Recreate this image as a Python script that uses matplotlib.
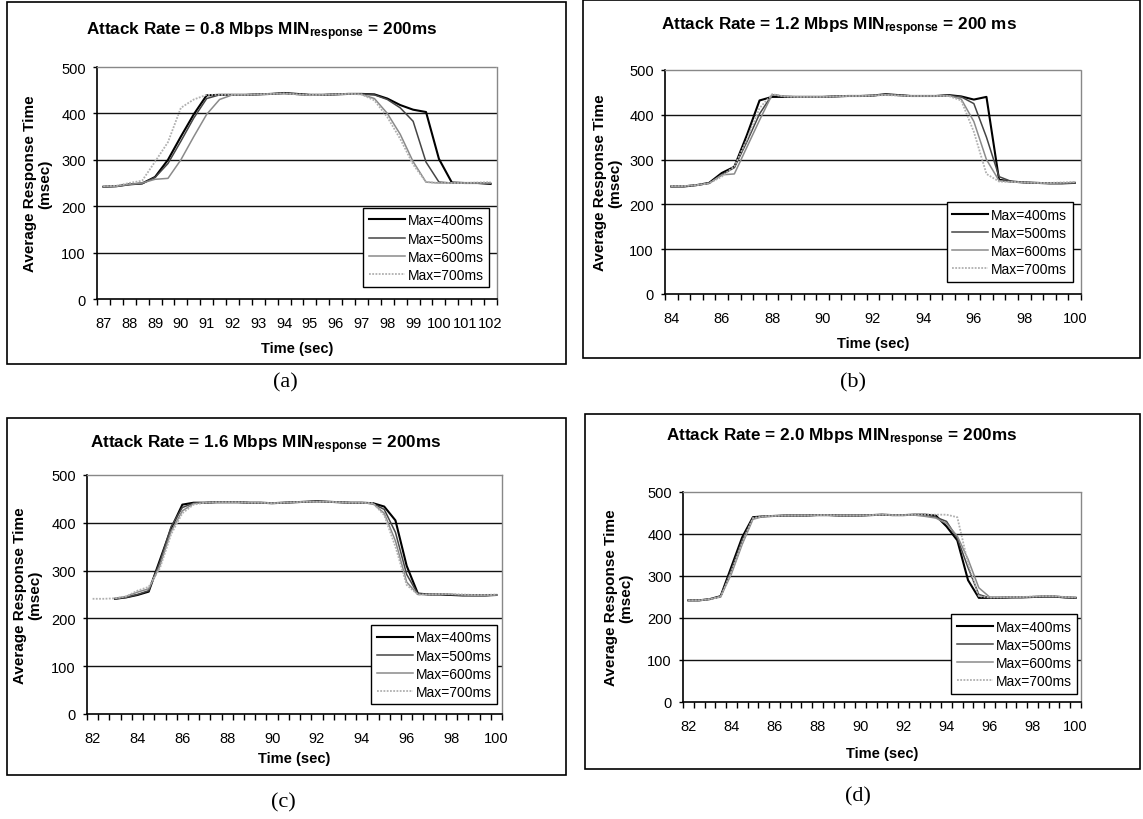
import numpy as np
import matplotlib
matplotlib.use("Agg")
import matplotlib.pyplot as plt
from matplotlib.patches import Rectangle

plt.rcParams['font.family'] = ['Liberation Sans', 'DejaVu Sans']
plt.rcParams['mathtext.fontset'] = 'custom'
plt.rcParams['mathtext.rm'] = 'Liberation Sans:bold'
plt.rcParams['mathtext.it'] = 'Liberation Sans:bold'
plt.rcParams['mathtext.bf'] = 'Liberation Sans:bold'
plt.rcParams['mathtext.default'] = 'rm'

nan = np.nan
series_labels = ["Max=400ms", "Max=500ms", "Max=600ms", "Max=700ms"]

# ---- Panel (a): 0.8 Mbps ----
a_start, a_end = 87, 102
a_400 = [242, 243, 247, 249, 263, 300, 350, 398, 439, 440, 440, 440, 441, 442, 444, 442,
         440, 440, 441, 442, 442, 441, 432, 418, 408, 403, 302, 251, 250, 250, 248]
a_500 = [242, 243, 247, 249, 262, 292, 340, 390, 432, 440, 440, 440, 441, 442, 443, 441,
         440, 440, 441, 442, 442, 440, 430, 412, 383, 295, 252, 250, 250, 250, 249]
a_600 = [242, 243, 247, 250, 258, 260, 300, 350, 398, 430, 440, 440, 441, 442, 443, 441,
         439, 440, 441, 442, 441, 432, 400, 355, 296, 252, 250, 250, 250, 250, 250]
a_700 = [243, 244, 250, 255, 296, 338, 412, 430, 440, 440, 440, 440, 441, 442, 443, 441,
         440, 440, 441, 442, 441, 428, 392, 345, 290, 252, 250, 250, 250, 251, 252]

# ---- Panel (b): 1.2 Mbps ----
b_start, b_end = 84, 100
b_400 = [240, 240, 243, 248, 270, 284, 355, 432, 440, 440, 440, 440, 440, 441, 442, 442, 443,
         446, 444, 442, 442, 442, 444, 441, 434, 440, 255, 251, 249, 248, 247, 247, 248]
b_500 = [240, 241, 243, 247, 266, 282, 340, 402, 445, 441, 440, 440, 440, 441, 442, 442, 443,
         445, 444, 442, 442, 442, 443, 440, 425, 350, 262, 251, 249, 248, 247, 247, 248]
b_600 = [240, 241, 243, 247, 266, 268, 328, 388, 445, 441, 440, 440, 440, 441, 442, 442, 443,
         445, 443, 442, 442, 442, 443, 435, 385, 300, 253, 250, 249, 248, 247, 248, 249]
b_700 = [241, 241, 243, 247, 262, 285, 345, 415, 446, 441, 440, 440, 440, 441, 442, 442, 443,
         444, 443, 442, 442, 442, 442, 432, 362, 268, 251, 250, 249, 248, 248, 249, 250]

# ---- Panel (c): 1.6 Mbps ----
c_start, c_end = 82, 100
c_400 = [nan, nan, 241, 244, 249, 256, 322, 388, 438, 442, 442, 443, 443, 443, 442, 442, 441, 442, 443,
         444, 445, 444, 443, 442, 442, 441, 434, 405, 310, 252, 250, 250, 249, 248, 248, 248, 249]
c_500 = [nan, nan, 241, 244, 250, 258, 318, 392, 432, 441, 442, 443, 443, 443, 442, 442, 441, 442, 443,
         444, 445, 444, 443, 442, 442, 440, 428, 380, 292, 251, 250, 251, 250, 249, 248, 248, 249]
c_600 = [nan, nan, 242, 246, 255, 262, 310, 382, 425, 440, 442, 443, 443, 443, 442, 442, 441, 442, 443,
         444, 444, 444, 443, 442, 442, 440, 420, 362, 276, 250, 250, 251, 250, 249, 248, 248, 249]
c_700 = [241, 241, 242, 246, 258, 266, 305, 376, 420, 438, 442, 443, 443, 443, 442, 442, 441, 442, 443,
         444, 444, 444, 443, 442, 442, 441, 416, 350, 270, 250, 250, 251, 251, 250, 249, 249, 250]

# ---- Panel (d): 2.0 Mbps ----
d_start, d_end = 82, 100
d_400 = [242, 242, 245, 252, 322, 392, 440, 442, 443, 444, 444, 444, 445, 445, 444, 444, 444, 445, 446,
         445, 445, 446, 446, 444, 418, 385, 290, 248, 248, 248, 249, 249, 250, 251, 251, 249, 248]
d_500 = [242, 242, 245, 251, 315, 385, 438, 442, 443, 444, 444, 444, 445, 445, 444, 444, 444, 445, 446,
         445, 445, 446, 445, 440, 430, 390, 320, 256, 248, 249, 249, 250, 250, 251, 251, 249, 248]
d_600 = [242, 242, 245, 251, 305, 375, 435, 442, 443, 444, 444, 444, 445, 445, 444, 444, 444, 445, 446,
         445, 445, 445, 442, 438, 425, 395, 340, 272, 250, 249, 250, 250, 251, 252, 252, 250, 249]
d_700 = [242, 242, 245, 250, 310, 380, 438, 442, 443, 444, 444, 444, 445, 445, 444, 444, 444, 445, 446,
         445, 445, 446, 446, 446, 446, 440, 330, 252, 249, 249, 250, 250, 251, 252, 252, 250, 249]

titles = [
    r"Attack Rate = 0.8 Mbps MIN$_{response}$ = 200ms",
    r"Attack Rate = 1.2 Mbps MIN$_{response}$ = 200 ms",
    r"Attack Rate = 1.6 Mbps MIN$_{response}$ = 200ms",
    r"Attack Rate = 2.0 Mbps MIN$_{response}$ = 200ms",
]
sub_labels = ["(a)", "(b)", "(c)", "(d)"]
y_ticks = [0, 100, 200, 300, 400, 500]

W, H = 1143, 820
fig = plt.figure(figsize=(W / 100, H / 100), dpi=100)

panels = [
    dict(start=a_start, end=a_end, data=[a_400, a_500, a_600, a_700], step_lab=1,
         ax=(97, 68, 497, 300), frame=(7, 3, 566, 365), title=(262, 32), sub=(285, 383),
         ylab=-0.112, xlab=-0.18, leg=(0.98, 0.05)),
    dict(start=b_start, end=b_end, data=[b_400, b_500, b_600, b_700], step_lab=2,
         ax=(665, 71, 1081, 295), frame=(583, 1, 1140, 359), title=(839, 27), sub=(853, 383),
         ylab=-0.103, xlab=-0.187, leg=(0.98, 0.054)),
    dict(start=c_start, end=c_end, data=[c_400, c_500, c_600, c_700], step_lab=2,
         ax=(87, 476, 502, 715), frame=(7, 419, 566, 776), title=(266, 445), sub=(283, 803),
         ylab=-0.108, xlab=-0.155, leg=(0.988, 0.04)),
    dict(start=d_start, end=d_end, data=[d_400, d_500, d_600, d_700], step_lab=2,
         ax=(683, 493, 1081, 703), frame=(585, 415, 1140, 770), title=(842, 438), sub=(858, 797),
         ylab=-0.126, xlab=-0.21, leg=(0.99, 0.04)),
]

styles = [
    dict(color="black", lw=1.5, ls="-"),
    dict(color="#454545", lw=1.1, ls="-"),
    dict(color="#8a8a8a", lw=1.1, ls="-"),
    dict(color="#b0b0b0", lw=1.3, ls=(0, (1, 0.8))),
]

for i, p in enumerate(panels):
    x0, y0, x1, y1 = p["ax"]
    ax = fig.add_axes([x0 / W, 1 - y1 / H, (x1 - x0) / W, (y1 - y0) / H])
    n = len(p["data"][0])
    t = p["start"] + 0.5 * np.arange(n)
    for ys, st, lab in zip(p["data"], styles, series_labels):
        ax.plot(t, ys, label=lab, **st)
    lo, hi = p["start"] - 0.25, p["end"] + 0.25
    ax.set_xlim(lo, hi)
    ax.set_ylim(0, 500)
    for g in [100, 200, 300, 400]:
        ax.axhline(g, color="#111111", lw=1.0, zorder=0)
    ax.set_yticks(y_ticks)
    ax.set_yticklabels([str(v) for v in y_ticks], fontsize=10.5)
    ax.tick_params(axis="y", direction="out", length=3, width=1, pad=5)
    labs = np.arange(p["start"], p["end"] + 0.01, p["step_lab"])
    ax.set_xticks(labs)
    ax.set_xticklabels([str(int(v)) for v in labs], fontsize=10.5)
    ax.tick_params(axis="x", which="major", length=0, pad=12)
    ax.set_xticks(np.arange(lo, hi + 0.01, 0.5), minor=True)
    ax.tick_params(axis="x", which="minor", direction="out", length=4, width=1)
    for s in ["left", "bottom"]:
        ax.spines[s].set_color("black")
        ax.spines[s].set_linewidth(1.2)
    for s in ["top", "right"]:
        ax.spines[s].set_color("#888888")
        ax.spines[s].set_linewidth(1.0)
        ax.spines[s].set_linestyle((0, (1, 1)))
    ax.set_ylabel("Average Response Time\n(msec)", fontsize=11, fontweight="bold",
                  linespacing=1.1)
    ax.yaxis.set_label_coords(p["ylab"], 0.5)
    ax.set_xlabel("Time (sec)", fontsize=10.5, fontweight="bold")
    ax.xaxis.set_label_coords(0.5, p["xlab"])
    leg = ax.legend(loc="lower right", bbox_to_anchor=p["leg"], fontsize=10,
                    frameon=True, fancybox=False, edgecolor="black", framealpha=1,
                    borderaxespad=0, handlelength=2.6, handletextpad=0.2,
                    labelspacing=0.3, borderpad=0.4)
    leg.get_frame().set_linewidth(1.0)

    fx0, fy0, fx1, fy1 = p["frame"]
    fig.add_artist(Rectangle((fx0 / W, 1 - fy1 / H), (fx1 - fx0) / W, (fy1 - fy0) / H,
                             transform=fig.transFigure, fill=False, ec="black", lw=1.2))
    tx, ty = p["title"]
    fig.text(tx / W, 1 - ty / H, titles[i], ha="center", va="center",
             fontsize=12.3, fontweight="bold")
    sx, sy = p["sub"]
    fig.text(sx / W, 1 - sy / H, sub_labels[i], ha="center", va="center",
             fontsize=16, family=["Liberation Serif", "DejaVu Serif"])

fig.savefig("out.png", dpi=100)
